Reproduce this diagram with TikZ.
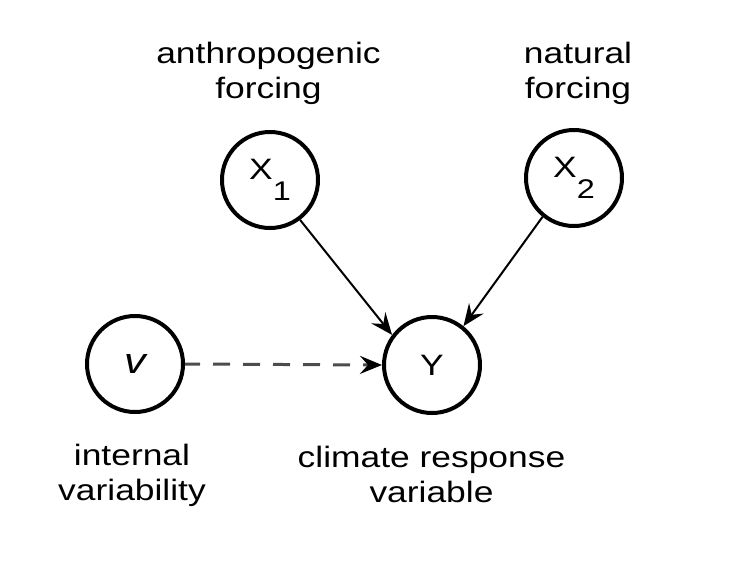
\documentclass[tikz,border=0pt]{standalone}
\usepackage{fontspec}
\setmainfont{Liberation Sans}[FakeStretch=1.2]
\usetikzlibrary{arrows.meta}
\begin{document}
\begin{tikzpicture}[x=1pt,y=-1pt,
  var/.style={circle,draw=black,line width=4pt,minimum size=96pt,inner sep=0pt,
    font=\fontsize{29.5}{35}\selectfont},
  lbl/.style={align=center,inner sep=0pt,anchor=base,
    font=\fontsize{29.5}{35}\selectfont},
  arr/.style={line width=2pt,-{Stealth[length=22pt,width=18pt,inset=8pt]}},
  darr/.style={line width=3pt,draw=black!70,dash pattern=on 17pt off 13pt,dash phase=2pt,
    -{Stealth[length=22pt,width=18pt,inset=8pt,color=black]}}]
\useasboundingbox (0,0) rectangle (739,578);
\node[var] (X1) at (270,180) {X\raisebox{-0.72em}{\fontsize{27}{27}\selectfont 1}};
\node[var] (X2) at (574,178) {X\raisebox{-0.72em}{\fontsize{27}{27}\selectfont 2}};
\node[var] (V) at (135,364) {\itshape\fontsize{36}{36}\selectfont v};
\node[var] (Y) at (432,365) {Y};
\node[lbl] (la) at (268.5,98) {anthropogenic\\forcing};
\node[lbl] (ln) at (578,98) {natural\\forcing};
\node[lbl] (li) at (132,500) {internal\\variability};
\node[lbl] (lc) at (431.5,502) {climate response\\variable};
\draw[arr] (X1.-53) -- (Y.143);
\draw[arr] (X2.231) -- (Y.51);
\draw[darr] (V.east) -- (Y.west);
\end{tikzpicture}
\end{document}
